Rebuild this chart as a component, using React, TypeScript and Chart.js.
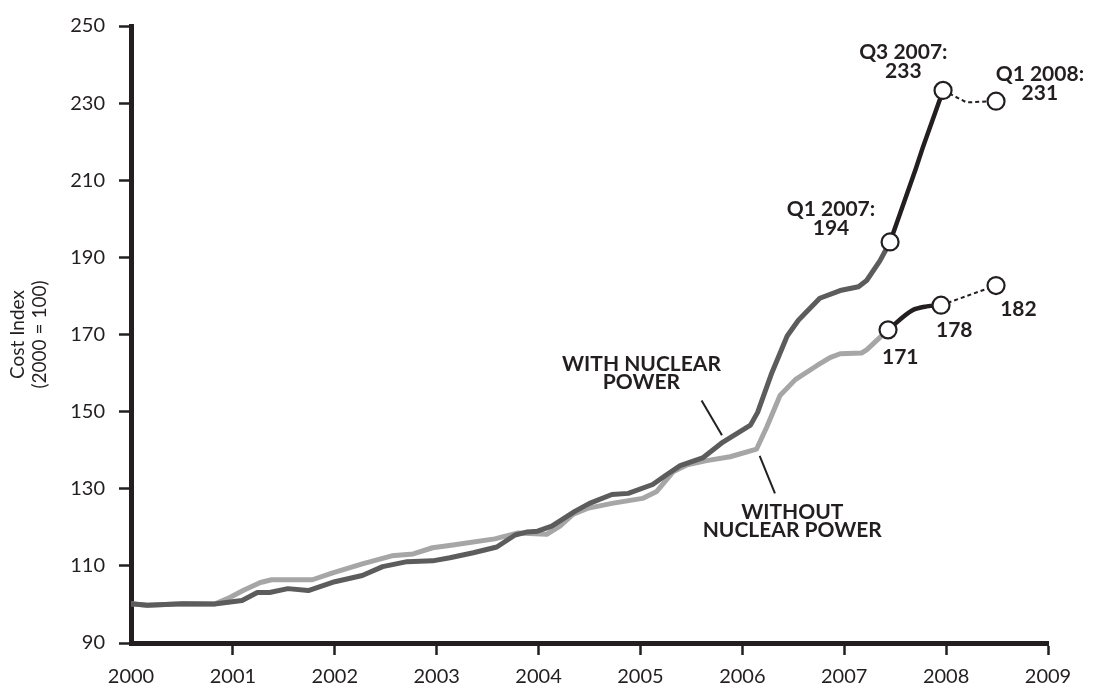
import React, { useEffect, useRef } from 'react';
import { Chart, registerables } from 'chart.js';

Chart.register(...registerables);

// ---- Data ----
const withYears = [2000.0, 2000.16, 2000.51, 2000.82, 2001.09, 2001.24, 2001.36, 2001.54, 2001.74, 2002.0, 2002.27, 2002.47, 2002.71, 2002.96, 2003.13, 2003.36, 2003.59, 2003.77, 2003.89, 2003.99, 2004.13, 2004.36, 2004.5, 2004.72, 2004.88, 2005.12, 2005.26, 2005.39, 2005.61, 2005.81, 2006.08, 2006.15, 2006.29, 2006.44, 2006.55, 2006.76, 2006.96, 2007.14, 2007.22, 2007.35, 2007.45];
const withValues = [100.2, 99.8, 100.2, 100.1, 101.0, 103.1, 103.1, 104.1, 103.6, 105.9, 107.5, 109.8, 111.1, 111.3, 112.1, 113.4, 114.9, 118.0, 118.8, 119.0, 120.3, 124.2, 126.2, 128.5, 128.8, 131.1, 133.7, 136.0, 138.0, 142.1, 146.5, 149.8, 160.1, 169.6, 173.7, 179.4, 181.4, 182.4, 184.0, 189.1, 194.0];

const withoutYears = [2000.0, 2000.16, 2000.51, 2000.82, 2000.97, 2001.1, 2001.27, 2001.38, 2001.78, 2001.98, 2002.27, 2002.56, 2002.77, 2002.96, 2003.16, 2003.57, 2003.79, 2004.08, 2004.21, 2004.34, 2004.48, 2004.72, 2005.02, 2005.16, 2005.32, 2005.46, 2005.65, 2005.88, 2006.14, 2006.24, 2006.37, 2006.52, 2006.73, 2006.86, 2006.96, 2007.17, 2007.22, 2007.43];
const withoutValues = [100.2, 99.8, 100.2, 100.1, 101.8, 103.6, 105.7, 106.4, 106.4, 108.2, 110.5, 112.6, 113.1, 114.7, 115.4, 117.0, 118.5, 118.2, 120.3, 123.4, 124.9, 126.2, 127.5, 129.3, 134.4, 136.2, 137.3, 138.3, 140.3, 146.0, 154.2, 158.3, 161.9, 164.0, 165.0, 165.2, 166.0, 171.2];

const withRecentYears = [2007.45, 2007.7, 2007.77, 2007.97];
const withRecentValues = [194.0, 212.8, 218.4, 233.3];
const withProjYears = [2007.97, 2008.2, 2008.49];
const withProjValues = [233.3, 230.2, 230.5];

const withoutRecentYears = [2007.43, 2007.67, 2007.81, 2007.95];
const withoutRecentValues = [171.2, 176.3, 177.3, 177.6];
const withoutProjYears = [2007.95, 2008.49];
const withoutProjValues = [177.6, 182.7];

const markerYears = [2007.45, 2007.97, 2008.49, 2007.43, 2007.95, 2008.49];
const markerValues = [194.0, 233.3, 230.5, 171.2, 177.6, 182.7];

const xTickValues = [2000, 2001, 2002, 2003, 2004, 2005, 2006, 2007, 2008, 2009];
const yTickValues = [90, 110, 130, 150, 170, 190, 210, 230, 250];

const yTitleLines = ['Cost Index', '(2000 = 100)'];

// Annotation texts (anchors in data coordinates)
const annotationTexts = [
  { lines: ['Q3 2007:', '233'], x: 2007.58, y: 240.7 },
  { lines: ['Q1 2008:', '231'], x: 2008.92, y: 235.0 },
  { lines: ['Q1 2007:', '194'], x: 2006.87, y: 200.0 },
  { lines: ['171'], x: 2007.55, y: 164.0 },
  { lines: ['178'], x: 2008.08, y: 171.2 },
  { lines: ['182'], x: 2008.71, y: 176.5 },
  { lines: ['WITH NUCLEAR', 'POWER'], x: 2005.01, y: 160.0 },
  { lines: ['WITHOUT', 'NUCLEAR POWER'], x: 2006.49, y: 121.6 },
];
const leaderLines = [
  { x1: 2005.6, y1: 152.9, x2: 2005.8, y2: 143.9 },
  { x1: 2006.17, y1: 138.5, x2: 2006.32, y2: 128.8 },
];

const DARK = '#231f20';
const WITH_GRAY = '#5c5c5c';
const WITHOUT_GRAY = '#a6a6a6';
const FONT = 'Lato';

const pts = (xs: number[], ys: number[]) => xs.map((x, i) => ({ x, y: ys[i] }));

const annotationPlugin = {
  id: 'textAnnotations',
  afterDatasetsDraw(chart: any) {
    const { ctx, scales } = chart;
    const xs = scales.x;
    const ys = scales.y;
    ctx.save();
    ctx.strokeStyle = DARK;
    ctx.lineWidth = 2;
    for (const l of leaderLines) {
      ctx.beginPath();
      ctx.moveTo(xs.getPixelForValue(l.x1), ys.getPixelForValue(l.y1));
      ctx.lineTo(xs.getPixelForValue(l.x2), ys.getPixelForValue(l.y2));
      ctx.stroke();
    }
    ctx.fillStyle = DARK;
    ctx.font = `bold 21px ${FONT}`;
    ctx.textAlign = 'center';
    ctx.textBaseline = 'middle';
    const lh = 18.5;
    for (const a of annotationTexts) {
      const px = xs.getPixelForValue(a.x);
      const py = ys.getPixelForValue(a.y);
      const n = a.lines.length;
      a.lines.forEach((t, i) => ctx.fillText(t, px, py + (i - (n - 1) / 2) * lh));
    }
    ctx.restore();
  },
};

export default function App() {
  const canvasRef = useRef<HTMLCanvasElement | null>(null);

  useEffect(() => {
    if (!canvasRef.current) return;
    const chart = new Chart(canvasRef.current, {
      type: 'line',
      data: {
        datasets: [
          {
            label: 'Markers',
            data: pts(markerYears, markerValues),
            showLine: false,
            pointRadius: 8.5,
            pointBackgroundColor: '#ffffff',
            pointBorderColor: DARK,
            pointBorderWidth: 2.2,
            order: 0,
          },
          {
            label: 'With nuclear (projection)',
            data: pts(withProjYears, withProjValues),
            borderColor: DARK,
            borderWidth: 2,
            borderDash: [4, 3],
            pointRadius: 0,
            order: 1,
          },
          {
            label: 'Without nuclear (projection)',
            data: pts(withoutProjYears, withoutProjValues),
            borderColor: DARK,
            borderWidth: 2,
            borderDash: [4, 3],
            pointRadius: 0,
            order: 1,
          },
          {
            label: 'With nuclear (recent)',
            data: pts(withRecentYears, withRecentValues),
            borderColor: DARK,
            borderWidth: 4.5,
            pointRadius: 0,
            borderJoinStyle: 'round',
            order: 2,
          },
          {
            label: 'Without nuclear (recent)',
            data: pts(withoutRecentYears, withoutRecentValues),
            borderColor: DARK,
            borderWidth: 4.5,
            pointRadius: 0,
            cubicInterpolationMode: 'monotone',
            borderJoinStyle: 'round',
            order: 2,
          },
          {
            label: 'With nuclear power',
            data: pts(withYears, withValues),
            borderColor: WITH_GRAY,
            borderWidth: 5,
            pointRadius: 0,
            borderJoinStyle: 'round',
            order: 3,
          },
          {
            label: 'Without nuclear power',
            data: pts(withoutYears, withoutValues),
            borderColor: WITHOUT_GRAY,
            borderWidth: 5,
            pointRadius: 0,
            borderJoinStyle: 'round',
            order: 4,
          },
        ],
      },
      options: {
        animation: false,
        responsive: false,
        devicePixelRatio: 1,
        layout: { padding: { top: 20, right: 54, left: 0, bottom: 0 } },
        plugins: {
          legend: { display: false },
          tooltip: { enabled: false },
        },
        scales: {
          x: {
            type: 'linear',
            min: 2000,
            max: 2009,
            afterBuildTicks: (scale: any) => {
              scale.ticks = xTickValues.map((v) => ({ value: v }));
            },
            afterFit: (scale: any) => {
              scale.height = 49;
            },
            ticks: {
              callback: (v: any) => String(v),
              color: DARK,
              font: { family: FONT, size: 20 },
              padding: 10,
              maxRotation: 0,
              autoSkip: false,
            },
            grid: {
              display: true,
              drawOnChartArea: false,
              drawTicks: true,
              tickLength: 12,
              tickWidth: 2.5,
              tickColor: (ctx: any) => (ctx.index === 0 ? 'rgba(0,0,0,0)' : DARK),
            },
            border: { display: true, width: 5, color: DARK },
          },
          y: {
            type: 'linear',
            min: 90,
            max: 250,
            afterBuildTicks: (scale: any) => {
              scale.ticks = yTickValues.map((v) => ({ value: v }));
            },
            afterFit: (scale: any) => {
              scale.width = 131;
            },
            ticks: {
              callback: (v: any) => String(v),
              color: DARK,
              font: { family: FONT, size: 20 },
              padding: 14,
            },
            grid: {
              display: true,
              drawOnChartArea: false,
              drawTicks: true,
              tickLength: 12,
              tickWidth: 2.5,
              tickColor: DARK,
            },
            border: { display: true, width: 5, color: DARK },
            title: {
              display: true,
              text: yTitleLines,
              color: DARK,
              font: { family: FONT, size: 19, lineHeight: 1.16 },
              padding: { top: 7, bottom: 0 },
            },
          },
        },
      },
      plugins: [annotationPlugin],
    } as any);
    return () => chart.destroy();
  }, []);

  return (
    <div style={{ position: 'absolute', left: 0, top: 0, width: 1102, height: 692, background: '#ffffff' }}>
      <canvas ref={canvasRef} width={1102} height={692} style={{ display: 'block' }} />
    </div>
  );
}
